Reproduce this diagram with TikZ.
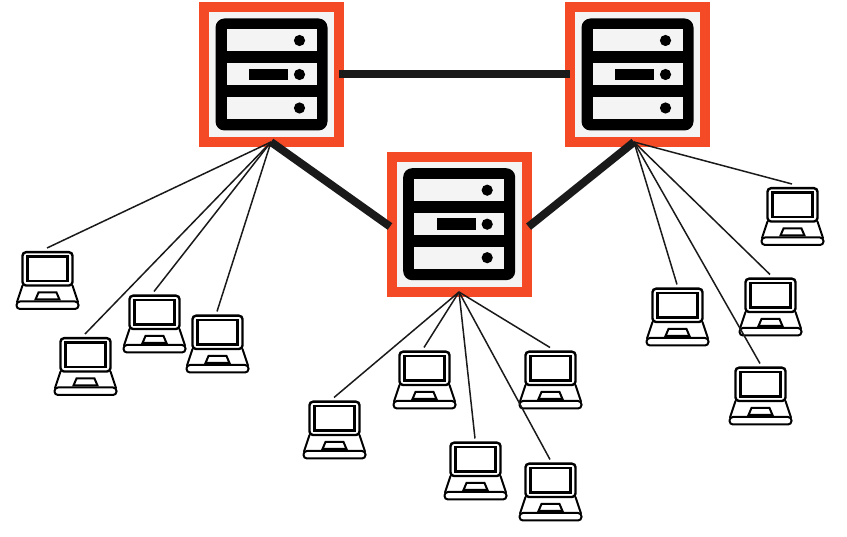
\documentclass[tikz,border=0pt]{standalone}
\usepackage{xcolor}
\usepackage{tikz}
\usetikzlibrary{arrows.meta, positioning, calc}
\definecolor{srvframe}{HTML}{F44B26}
\definecolor{srvfill}{HTML}{F4F4F4}
\definecolor{wire}{HTML}{1A1A1A}

\begin{document}
\begin{tikzpicture}[
  x=1pt, y=-1pt,
  srv/.style={rectangle, draw=srvframe, fill=srvfill, line width=10pt, minimum size=135pt, inner sep=0pt},
  lap/.style={rectangle, minimum width=62pt, minimum height=62pt, inner sep=0pt, anchor=north},
  link/.style={line width=8pt, wire},
  wirelap/.style={line width=1.5pt, wire},
  server/.pic={
    \fill[black, rounded corners=9pt] (-56,-56) rectangle (56,56);
    \foreach \y in {-34,0,33.5} {
      \fill[srvfill] (-45,\y-11) rectangle (45,\y+11);
      \fill[black] (28,\y) circle (5.6);
    }
    \fill[black] (-22.5,-5.7) rectangle (16.5,5.7);
  },
  laptop/.pic={
    \draw[line width=2.4pt, rounded corners=3.5pt] (-24.5,1.2) rectangle (25.5,34.5);
    \draw[line width=2.4pt] (-19.5,5.5) rectangle (20.5,30);
    \draw[line width=2pt, line cap=round] (-24.5,34.5) -- (-30,51) (25.5,34.5) -- (31,51);
    \draw[line width=2pt, rounded corners=3.5pt] (-30.5,50.5) rectangle (31.5,58);
    \draw[line width=2pt] (-8.5,41.5) -- (9.5,41.5) -- (12.5,48.5) -- (-11.5,48.5) -- cycle;
  }
]
  \useasboundingbox (0,0) rectangle (847,537);

  % Servers
  \node[srv] (s1) at (271.5,74.5) {};
  \node[srv] (s2) at (637.5,74.5) {};
  \node[srv] (s3) at (459.2,224.2) {};
  \foreach \s in {s1,s2,s3} {
    \pic at (\s) {server};
  }

  % Laptops
  \foreach \n/\x/\y in {l1/47/248, l2/85/334, l3/154/291.5, l4/217/311.5, l5/334/397.5,
      l6/424/347.5, l7/475/438.5, l8/550/347.5, l9/550/459.5, l10/677/284.5, l11/760/363.5,
      l12/770/274.5, l13/792/184} {
    \node[lap] (\n) at (\x,\y) {};
    \pic at ($(\n.north)+(0,3)$) {laptop};
  }

  % Where the wires meet
  \coordinate (h1) at (271,142);
  \coordinate (h2) at (634,142);
  \coordinate (h3) at (459,292);

  \draw[link, shorten <=-5pt, shorten >=-5pt] (s1.east) -- (s2.west);
  \draw[link, shorten >=-4pt] (h1) -- (s3.west);
  \draw[link, shorten >=-4pt] (h2) -- (s3.east);

  \foreach \n in {l1,l2,l3,l4} {
    \draw[wirelap] (h1) -- (\n.north);
  }
  \foreach \n in {l5,l6,l7,l8,l9} {
    \draw[wirelap] (h3) -- (\n.north);
  }
  \foreach \n in {l10,l11,l12,l13} {
    \draw[wirelap] (h2) -- (\n.north);
  }
\end{tikzpicture}
\end{document}
